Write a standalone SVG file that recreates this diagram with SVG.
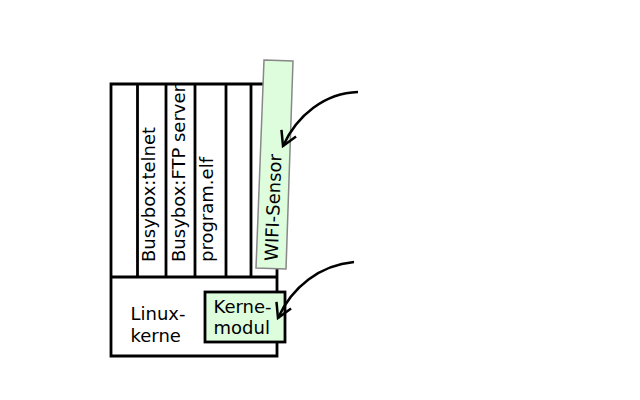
<svg xmlns="http://www.w3.org/2000/svg" width="640" height="400" viewBox="0 0 640 400">
<style>
.frame{fill:none;stroke:#000;stroke-width:2.8;stroke-linecap:square}
.lbl{font-family:"DejaVu Sans",sans-serif;font-size:18px;fill:#000}
.conn{fill:none;stroke:#000;stroke-width:2.5}
</style>
<defs>
<marker id="ah" markerUnits="userSpaceOnUse" viewBox="0 0 17 19" markerWidth="17" markerHeight="19" refX="15" refY="9.5" orient="auto">
<path d="M1,1.5 L15,9.5 L1,17.5" fill="none" stroke="#000" stroke-width="2.5"/>
</marker>
</defs>
<rect width="640" height="400" fill="#fff"/>
<g id="system">
<path class="frame" d="M111,84 H266 M111,84 V356 H277 V268 M111,277 H276 M137.5,84 V277 M166,84 V277 M195,84 V277 M226,84 V277 M251,84 V277"/>
<text class="lbl" x="130.5" y="319.5">Linux-</text>
<text class="lbl" x="130.5" y="341.5">kerne</text>
</g>
<g id="telnet"><text class="lbl" transform="translate(154.5,262) rotate(-90)">Busybox:telnet</text></g>
<g id="ftp"><text class="lbl" transform="translate(184.5,262) rotate(-90)">Busybox:FTP server</text></g>
<g id="program"><text class="lbl" transform="translate(212.7,262) rotate(-90)">program.elf</text></g>
<g id="sensor">
<polygon points="264,60 293,61 286,269 256,268" fill="#ddfddd" stroke="#888" stroke-width="1.5"/>
<text class="lbl" text-anchor="middle" transform="translate(274.75,164.5) rotate(-87.9)" x="-43" y="6.3">WIFI-Sensor</text>
</g>
<g id="kernemodul">
<rect x="205" y="292" width="80" height="50" fill="#ddfddd" stroke="#000" stroke-width="2.8"/>
<text class="lbl" x="213.5" y="313">Kerne-</text>
<text class="lbl" x="213.5" y="334">modul</text>
</g>
<g id="connectors">
<path class="conn" marker-end="url(#ah)" d="M358,92 C325,93 297,115 283,146"/>
<path class="conn" marker-end="url(#ah)" d="M354,262 C320,265 292,287 278,318"/>
</g>
</svg>
